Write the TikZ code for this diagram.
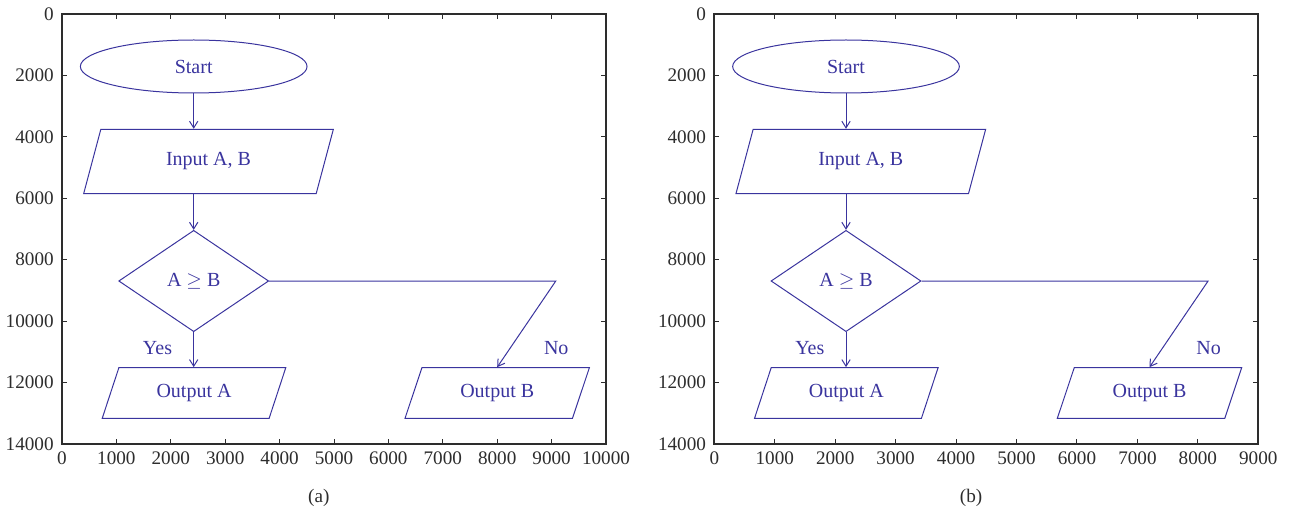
\documentclass[tikz,border=0pt]{standalone}
\usepackage{fontspec}
\setmainfont{Liberation Serif}
\usetikzlibrary{shapes.geometric,arrows.meta}
\definecolor{flowblue}{RGB}{58,52,158}
\definecolor{axisgray}{RGB}{45,45,45}
\tikzset{
  flow/.style={draw=flowblue, text=flowblue, line width=0.6pt,
    font=\fontsize{12}{14}\selectfont, inner sep=0pt},
  iobox/.style={flow, trapezium, trapezium left angle=#1,
    trapezium right angle=180-#1, trapezium stretches=true},
  arr/.style={draw=flowblue, line width=0.6pt,
    -{Straight Barb[length=4pt,width=5pt]}},
  frame/.style={draw=axisgray, line width=1pt},
  ticklab/.style={text=axisgray, inner sep=0pt, font=\fontsize{11.5}{13}\selectfont},
  flowlab/.style={text=flowblue, inner sep=0pt, font=\fontsize{12}{14}\selectfont}
}
\begin{document}
\begin{tikzpicture}[x=0.6pt,y=-0.6pt]
\useasboundingbox (0,0) rectangle (1291,513);
\foreach \ox/\xmax/\cap in {62/10000/a,714.3/9000/b}{
\begin{scope}[shift={(\ox,14)}, name prefix=\cap-]
% axes
\draw[frame] (0,0) rectangle (544,430);
\foreach \t in {0,1000,...,\xmax}{
  \draw[frame,line width=0.6pt] (\t/\xmax*544,0) -- ++(0,5);
  \draw[frame,line width=0.6pt] (\t/\xmax*544,430) -- ++(0,-5);
  \node[ticklab,anchor=north] at (\t/\xmax*544,437.7) {\t};
}
\foreach \t in {0,2000,...,14000}{
  \draw[frame,line width=0.6pt] (0,\t/14000*430) -- ++(5,0);
  \draw[frame,line width=0.6pt] (544,\t/14000*430) -- ++(-5,0);
  \node[ticklab,anchor=east] at (-8,\t/14000*430) {\t};
}
\node[ticklab] (cap) at (256.75,484.3) {(\cap)};
% flow chart
\node[flow, ellipse, minimum width=136pt, minimum height=31.8pt] (start) at (131.7,52.5) {Start};
\node[iobox=68.8, minimum width=150pt, minimum height=38.6pt] (input) at (146.5,147.5) {Input A, B};
\node[flow, diamond, aspect=1.5, minimum width=90pt, minimum height=60.8pt] (dec) at (131.7,267) {A $\geq$ B};
\node[iobox=64.6, minimum width=110.7pt, minimum height=30.4pt] (outA) at (132,379) {Output A};
\node[iobox=64.6, minimum width=110.7pt, minimum height=30.4pt] (outB) at (435.2,379) {Output B};
\coordinate (turn) at (493.8,267);
\node[flowlab] (yes) at (95.5,334.3) {Yes};
\node[flowlab] (no) at (494.25,334.3) {No};
\draw[arr] (start) -- (start |- input.north);
\draw[arr] (start |- input.south) -- (dec.north);
\draw[arr] (dec.south) -- (dec.south |- outA.north);
\draw[arr] (dec.east) -- (turn) -- (outB.north);
\end{scope}
}
\end{tikzpicture}
\end{document}
